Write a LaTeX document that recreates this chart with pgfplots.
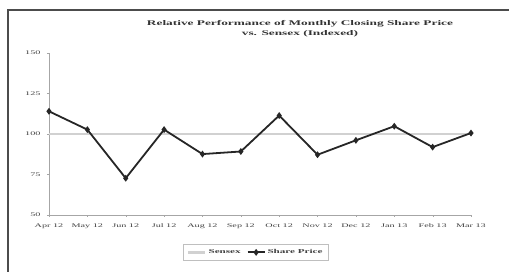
\documentclass[border=0pt]{standalone}
\usepackage{pgfplots}
\pgfplotsset{compat=1.18}
\usepackage{fontspec}
\setmainfont[FakeStretch=1.85]{Liberation Serif}
\begin{document}
\begin{tikzpicture}[x=1pt,y=1pt]
\useasboundingbox (0,0) rectangle (509,272);
\draw[line width=1.5pt, black!70] (8,0) -- (8,262) -- (509,262);
\node[font=\fontsize{7.2}{10}\selectfont\bfseries, align=center, text=black!80] at (300,243) {Relative Performance of Monthly Closing Share Price\\vs. Sensex (Indexed)};
\begin{axis}[
  at={(49pt,57pt)}, anchor=south west,
  scale only axis, width=422pt, height=162pt,
  xmin=0, xmax=11, ymin=50, ymax=150,
  axis lines=left, axis line style={black!35, -},
  xtick={0,...,11},
  xticklabels={Apr 12,May 12,Jun 12,Jul 12,Aug 12,Sep 12,Oct 12,Nov 12,Dec 12,Jan 13,Feb 13,Mar 13},
  ytick={50,75,100,125,150},
  tick style={black!35},
  tick align=outside, major tick length=2pt,
  ticklabel style={font=\fontsize{5.5}{6}\selectfont, text=black!75},
  xticklabel style={yshift=-3pt},
  yticklabel style={xshift=-3pt},
  /pgf/number format/assume math mode=true,
  legend columns=2,
  legend style={at={(0.49,-0.18)}, anchor=north, draw=black!25, line width=0.8pt,
    font=\fontsize{6}{7}\selectfont\bfseries, text=black!75, inner ysep=3pt, inner xsep=4pt,
    /tikz/every even column/.append style={column sep=4pt}},
  legend cell align=left,
]
\addplot[black!18, line width=2.5pt] coordinates {(0,100) (11,100)};
\addlegendentry{Sensex}
\addplot[black!85, line width=1.8pt, mark=diamond*, mark size=2pt, mark options={solid}] coordinates {
(0,114) (1,102.7) (2,72.7) (3,102.7) (4,87.6) (5,89.2) (6,111.4) (7,87.2) (8,96.1) (9,104.8) (10,91.9) (11,100.6)};
\addlegendentry{Share Price}
\end{axis}
\end{tikzpicture}
\end{document}
